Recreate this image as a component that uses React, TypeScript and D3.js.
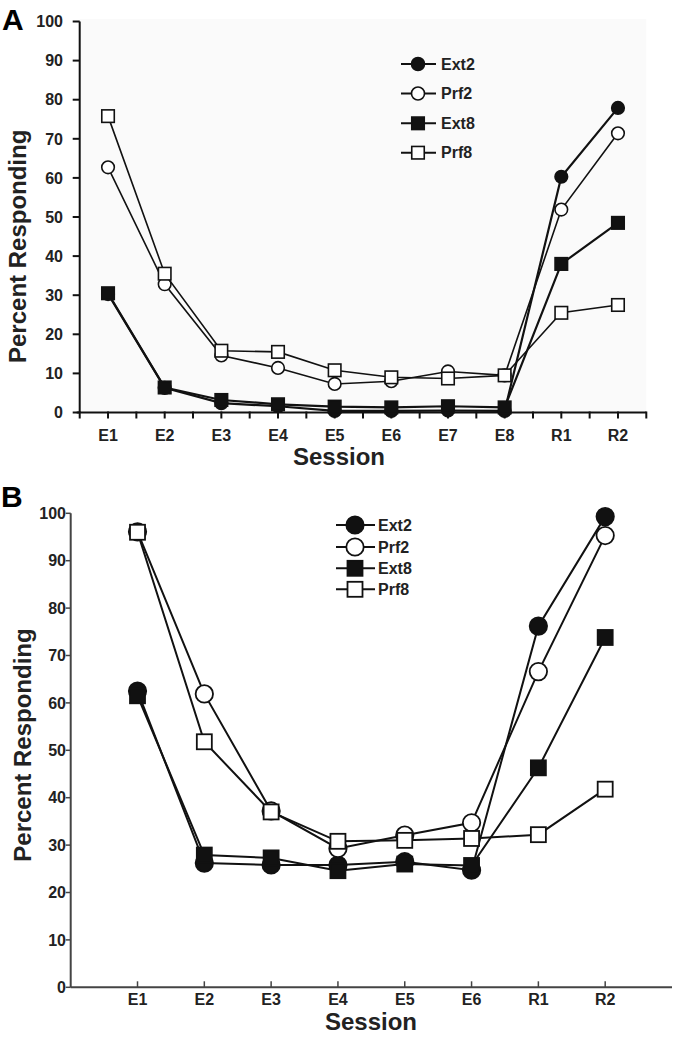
import React from "react";
import * as d3 from "d3";

const catsA = ["E1", "E2", "E3", "E4", "E5", "E6", "E7", "E8", "R1", "R2"];
const catsB = ["E1", "E2", "E3", "E4", "E5", "E6", "R1", "R2"];
const yTicks = [0, 10, 20, 30, 40, 50, 60, 70, 80, 90, 100];
const seriesNames = ["Ext2", "Prf2", "Ext8", "Prf8"];

const ext2A = [30.3, 6.3, 2.4, 1.6, 0.4, 0.4, 0.5, 0.4, 60.3, 77.9];
const prf2A = [62.7, 32.8, 14.6, 11.4, 7.3, 8.0, 10.5, 9.5, 51.9, 71.4];
const ext8A = [30.5, 6.4, 3.2, 2.1, 1.5, 1.3, 1.6, 1.3, 38.0, 48.5];
const prf8A = [75.8, 35.5, 15.8, 15.5, 10.8, 9.0, 8.7, 9.5, 25.5, 27.5];

const ext2B = [62.5, 26.2, 25.8, 25.8, 26.5, 24.7, 76.2, 99.3];
const prf2B = [96.1, 61.9, 37.2, 29.3, 32.1, 34.7, 66.6, 95.3];
const ext8B = [61.5, 27.9, 27.3, 24.6, 26.0, 25.7, 46.3, 73.8];
const prf8B = [96.0, 51.8, 37.0, 30.8, 31.0, 31.4, 32.2, 41.8];

const FONT = "'Liberation Sans', Arial, Helvetica, sans-serif";

type Kind = { filled: boolean; shape: "circle" | "square" };
const kinds: Kind[] = [
  { filled: true, shape: "circle" },
  { filled: false, shape: "circle" },
  { filled: true, shape: "square" },
  { filled: false, shape: "square" },
];

function Marker({ x, y, k, r, s, sw }: { x: number; y: number; k: Kind; r: number; s: number; sw: number }) {
  const fill = k.filled ? "#111" : "#fff";
  if (k.shape === "circle")
    return <circle cx={x} cy={y} r={r} fill={fill} stroke="#111" strokeWidth={sw} />;
  return <rect x={x - s / 2} y={y - s / 2} width={s} height={s} fill={fill} stroke="#111" strokeWidth={sw} />;
}

function PanelA() {
  const x = d3.scaleLinear().domain([-0.5, 9.5]).range([79.7, 646.3]);
  const y = d3.scaleLinear().domain([0, 100]).range([412.5, 21.5]);
  const data = [ext2A, prf2A, ext8A, prf8A];
  const line = d3
    .line<number>()
    .x((_, i) => x(i))
    .y((d) => y(d));
  const halfTicks = d3.range(-0.5, 9.51, 0.5);
  const legendY = [64, 93.5, 123.3, 152.7];
  return (
    <g>
      <rect x={x(-0.5)} y={19} width={x(9.5) - x(-0.5)} height={y(0) - 19} fill="#fafafa" />
      <text x={2} y={30} fontSize={30} fontWeight="bold" fontFamily={FONT}>A</text>
      <line x1={x(-0.5)} x2={x(-0.5)} y1={y(100)} y2={y(0)} stroke="#111" strokeWidth={2} />
      {yTicks.map((t) => (
        <g key={t}>
          <line x1={x(-0.5) - 7} x2={x(-0.5)} y1={y(t)} y2={y(t)} stroke="#111" strokeWidth={2} />
          <text x={63} y={y(t)} dy="0.36em" textAnchor="end" fontSize={16} fontWeight="bold" fontFamily={FONT} fill="#222">
            {t}
          </text>
        </g>
      ))}
      <line x1={x(-0.5) - 3} x2={x(9.5)} y1={y(0)} y2={y(0)} stroke="#111" strokeWidth={2} />
      {halfTicks.map((t) => (
        <line key={t} x1={x(t)} x2={x(t)} y1={y(0) - 1} y2={y(0) + 6} stroke="#111" strokeWidth={2} />
      ))}
      {catsA.map((c, i) => (
        <text key={c} x={x(i)} y={441} textAnchor="middle" fontSize={16} fontWeight="bold" fontFamily={FONT} fill="#222">
          {c}
        </text>
      ))}
      <text x={339} y={465} textAnchor="middle" fontSize={24} fontWeight="bold" fontFamily={FONT} fill="#222">
        Session
      </text>
      <text
        transform={`translate(26, ${y(42.5)}) rotate(-90)`}
        textAnchor="middle"
        fontSize={24}
        fontWeight="bold"
        fontFamily={FONT}
        fill="#222"
      >
        Percent Responding
      </text>
      {data.map((d, si) => (
        <g key={si}>
          <path d={line(d) || ""} fill="none" stroke="#111" strokeWidth={kinds[si].filled ? 2.2 : 1.6} />
          {d.map((v, i) => (
            <Marker key={i} x={x(i)} y={y(v)} k={kinds[si]} r={6.3} s={12.5} sw={1.6} />
          ))}
        </g>
      ))}
      {seriesNames.map((n, i) => (
        <g key={n}>
          <line x1={401} x2={436} y1={legendY[i]} y2={legendY[i]} stroke="#111" strokeWidth={2} />
          <Marker x={418} y={legendY[i]} k={kinds[i]} r={6.5} s={12.5} sw={1.6} />
          <text x={441} y={legendY[i]} dy="0.36em" fontSize={16} fontWeight="bold" fontFamily={FONT} fill="#222">
            {n}
          </text>
        </g>
      ))}
    </g>
  );
}

function PanelB() {
  const x = d3.scaleLinear().domain([0, 9]).range([70.7, 672]);
  const y = d3.scaleLinear().domain([0, 100]).range([987.3, 513.3]);
  const data = [ext2B, prf2B, ext8B, prf8B];
  const line = d3
    .line<number>()
    .x((_, i) => x(i + 1))
    .y((d) => y(d));
  const legendY = [525, 547, 568.3, 589.3];
  return (
    <g>
      <text x={1} y={507} fontSize={30} fontWeight="bold" fontFamily={FONT}>B</text>
      <line x1={x(0)} x2={x(0)} y1={y(100)} y2={y(0)} stroke="#444" strokeWidth={2} />
      {yTicks.map((t) => (
        <g key={t}>
          <line x1={x(0) - 5} x2={x(0)} y1={y(t)} y2={y(t)} stroke="#444" strokeWidth={1.5} />
          <text x={66} y={y(t)} dy="0.36em" textAnchor="end" fontSize={16} fontWeight="bold" fontFamily={FONT} fill="#222">
            {t}
          </text>
        </g>
      ))}
      <line x1={x(0)} x2={x(9)} y1={y(0)} y2={y(0)} stroke="#444" strokeWidth={2} />
      {catsB.map((c, i) => (
        <g key={c}>
          <line x1={x(i + 1)} x2={x(i + 1)} y1={y(0) - 6} y2={y(0)} stroke="#444" strokeWidth={1.5} />
          <text x={x(i + 1)} y={1005} textAnchor="middle" fontSize={16} fontWeight="bold" fontFamily={FONT} fill="#222">
            {c}
          </text>
        </g>
      ))}
      <text x={371} y={1030} textAnchor="middle" fontSize={24} fontWeight="bold" fontFamily={FONT} fill="#222">
        Session
      </text>
      <text
        transform={`translate(31, 745) rotate(-90)`}
        textAnchor="middle"
        fontSize={24}
        fontWeight="bold"
        fontFamily={FONT}
        fill="#222"
      >
        Percent Responding
      </text>
      {data.map((d, si) => (
        <g key={si}>
          <path d={line(d) || ""} fill="none" stroke="#111" strokeWidth={2} />
          {d.map((v, i) => (
            <Marker key={i} x={x(i + 1)} y={y(v)} k={kinds[si]} r={8.7} s={15} sw={1.8} />
          ))}
        </g>
      ))}
      {seriesNames.map((n, i) => (
        <g key={n}>
          <line x1={336} x2={375} y1={legendY[i]} y2={legendY[i]} stroke="#111" strokeWidth={2} />
          <Marker x={355} y={legendY[i]} k={kinds[i]} r={8.7} s={15} sw={1.8} />
          <text x={378} y={legendY[i]} dy="0.36em" fontSize={16} fontWeight="bold" fontFamily={FONT} fill="#222">
            {n}
          </text>
        </g>
      ))}
    </g>
  );
}

export default function App() {
  return (
    <svg
      width={674}
      height={1042}
      viewBox="0 0 674 1042"
      style={{ position: "absolute", left: 0, top: 0, background: "#fff" }}
    >
      <rect x={0} y={0} width={674} height={1042} fill="#fff" />
      <PanelA />
      <PanelB />
    </svg>
  );
}
